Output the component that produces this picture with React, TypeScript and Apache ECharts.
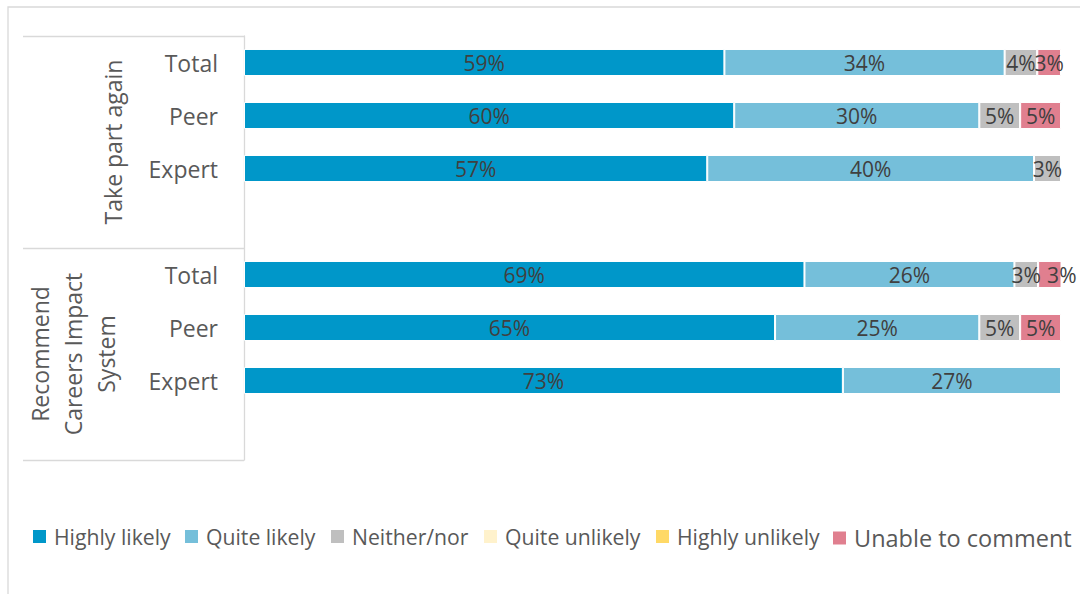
import React, { useEffect, useRef } from "react";
import * as echarts from "echarts";

const categories = ["Total", "Peer", "Expert", "", "Total", "Peer", "Expert", ""];
const groups = ["Take part again", "Recommend\nCareers Impact\nSystem"];
const seriesNames = [
  "Highly likely",
  "Quite likely",
  "Neither/nor",
  "Quite unlikely",
  "Highly unlikely",
  "Unable to comment",
];
const highlyLikely = [58.8, 60, 56.7, null, 68.6, 65, 73.3, null];
const quiteLikely = [34.3, 30, 40, null, 25.7, 25, 26.7, null];
const neitherNor = [4.0, 5, 3.3, null, 2.9, 5, 0, null];
const quiteUnlikely = [0, 0, 0, null, 0, 0, 0, null];
const highlyUnlikely = [0, 0, 0, null, 0, 0, 0, null];
const unableToComment = [2.9, 5, 0, null, 2.9, 5, 0, null];
const seriesValues = [
  highlyLikely,
  quiteLikely,
  neitherNor,
  quiteUnlikely,
  highlyUnlikely,
  unableToComment,
];
const colors = ["#0097C9", "#75BFDA", "#BFBFBF", "#FFF2CC", "#FFD966", "#E07F8F"];
const legendLefts = [31, 183, 329, 482, 654, 831];

const FONT = "Open Sans";

export default function App() {
  const ref = useRef<HTMLDivElement>(null);
  useEffect(() => {
    document.body.style.margin = "0";
    const chart = echarts.init(ref.current!, null, { renderer: "svg" });
    const keys = categories.map((c, i) => `${i}|${c}`);
    chart.setOption({
      animation: false,
      backgroundColor: "#ffffff",
      graphic: [
        {
          type: "rect",
          shape: { x: 8, y: 7, width: 1200, height: 700 },
          style: { fill: "none", stroke: "#D9D9D9", lineWidth: 1.3 },
          silent: true,
        },
      ],
      grid: { left: 244, right: 19, top: 36, bottom: 134 },
      xAxis: {
        type: "value",
        min: 0,
        max: 100,
        show: false,
      },
      yAxis: [
        {
          type: "category",
          data: keys,
          inverse: true,
          axisLine: { show: true, lineStyle: { color: "#D9D9D9", width: 1.3 } },
          axisTick: {
            show: true,
            length: 221,
            interval: (i: number) => i % 4 === 0,
            lineStyle: { color: "#D9D9D9", width: 1.3 },
          },
          axisLabel: {
            interval: 0,
            formatter: (v: string) => v.split("|")[1],
            color: "#595959",
            fontFamily: FONT,
            fontSize: 23,
            margin: 26,
          },
          splitLine: { show: false },
        },
        {
          type: "category",
          data: [
            { value: groups[0] },
            { value: groups[1], textStyle: { padding: [0, 0, 7, 0] } },
          ],
          inverse: true,
          position: "left",
          axisLine: { show: false },
          axisTick: { show: false },
          axisLabel: {
            interval: 0,
            hideOverlap: false,
            rotate: 90,
            align: "center",
            verticalAlign: "bottom",
            lineHeight: 33,
            margin: 115,
            color: "#595959",
            fontFamily: FONT,
            fontSize: 23,
          },
          splitLine: { show: false },
        },
      ],
      legend: seriesNames.map((name, i) => ({
        data: [
          i === 5
            ? { name, textStyle: { fontSize: 23.5 } }
            : { name },
        ],
        left: legendLefts[i],
        top: 526,
        padding: 0,
        itemWidth: 15,
        itemHeight: 15,
        icon: "rect",
        selectedMode: false,
        textStyle: {
          color: "#595959",
          fontFamily: FONT,
          fontSize: 21.2,
          padding: [0, 0, 0, 2],
        },
      })),
      series: seriesNames.map((name, i) => ({
        name,
        type: "bar",
        stack: "total",
        yAxisIndex: 0,
        barWidth: "51%",
        data: seriesValues[i].map((v, j) =>
          i === 5 && j === 4 ? { value: v, label: { offset: [12, 0] } } : v
        ),
        itemStyle: { color: colors[i], borderColor: "#ffffff", borderWidth: 1 },
        label: {
          show: true,
          position: "inside",
          color: "#404040",
          fontFamily: FONT,
          fontSize: 21,
          formatter: (p: any) =>
            p.value && p.value > 0 ? `${Math.round(p.value)}%` : "",
        },
      })),
    });
    return () => chart.dispose();
  }, []);
  return <div ref={ref} style={{ width: 1080, height: 594 }} />;
}
